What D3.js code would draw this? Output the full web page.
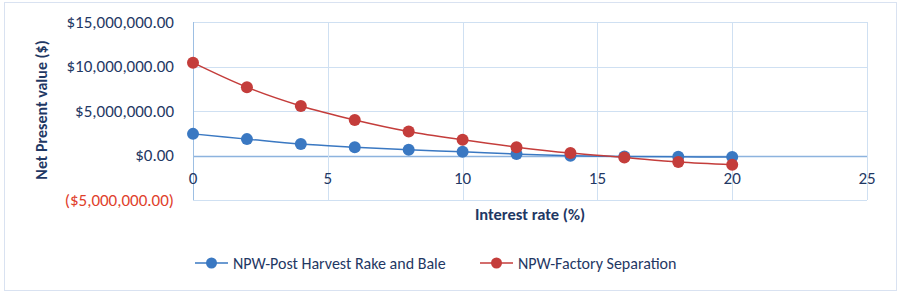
<!DOCTYPE html>
<html>
<head>
<meta charset="utf-8">
<script src="https://cdn.jsdelivr.net/npm/d3@7"></script>
<style>
  body { margin: 0; background: #fff; }
  svg text { font-family: Carlito, "Open Sans", "Noto Sans", sans-serif; }
</style>
</head>
<body>
<div id="chart"></div>
<script>
// interest rates (%)
const rates = [0, 2, 4, 6, 8, 10, 12, 14, 16, 18, 20];
// NPW values ($)
const rakeBale = [2430000, 1840000, 1280000, 940000, 640000, 410000, 160000, -30000, -110000, -150000, -180000];
const factorySep = [10430000, 7670000, 5570000, 4000000, 2700000, 1760000, 940000, 270000, -220000, -740000, -1040000];
const seriesNames = ["NPW-Post Harvest Rake and Bale", "NPW-Factory Separation"];
const seriesColors = ["#3A78C2", "#C43D3B"];
const xTicks = [0, 5, 10, 15, 20, 25];
const yTicks = [-5000000, 0, 5000000, 10000000, 15000000];

const W = 902, H = 298;
const svg = d3.select("#chart").append("svg")
    .attr("width", W)
    .attr("height", H);

// chart frame
svg.append("rect")
    .attr("x", 4.5).attr("y", 2.5)
    .attr("width", 892).attr("height", 288)
    .attr("fill", "#fff")
    .attr("stroke", "#D9E2F1");

var x = d3.scaleLinear().domain([0, 25]).range([193, 867]);
var y = d3.scaleLinear().domain([-5000000, 15000000]).range([200, 22]);

var grid = "#CFE0F2";

// horizontal gridlines
svg.selectAll("line.hg")
    .data(yTicks)
    .enter()
    .append("line")
    .attr("class", "hg")
    .attr("x1", x(0)).attr("x2", x(25))
    .attr("y1", d => Math.round(y(d)) + 0.5)
    .attr("y2", d => Math.round(y(d)) + 0.5)
    .attr("stroke", d => d === 0 ? "#8DB3DE" : grid)
    .attr("stroke-width", d => d === 0 ? 1.3 : 1);

// vertical gridlines
svg.selectAll("line.vg")
    .data(xTicks)
    .enter()
    .append("line")
    .attr("class", "vg")
    .attr("y1", y(15000000)).attr("y2", y(-5000000))
    .attr("x1", d => Math.round(x(d)) + 0.5)
    .attr("x2", d => Math.round(x(d)) + 0.5)
    .attr("stroke", d => d === 0 ? "#9DBFE3" : grid);

// y tick labels
const fmt = d3.format(",.2f");
svg.selectAll("text.yt")
    .data(yTicks)
    .enter()
    .append("text")
    .attr("class", "yt")
    .attr("x", 174)
    .attr("y", d => y(d) + 5.5)
    .attr("text-anchor", "end")
    .attr("font-size", 17)
    .attr("fill", d => d < 0 ? "#E0402A" : "#1F3864")
    .text(d => d < 0 ? "($" + fmt(-d) + ")" : "$" + fmt(d));

// x tick labels (sit below the zero line)
svg.selectAll("text.xt")
    .data(xTicks)
    .enter()
    .append("text")
    .attr("class", "xt")
    .attr("x", d => x(d))
    .attr("y", y(0) + 28)
    .attr("text-anchor", "middle")
    .attr("font-size", 17)
    .attr("fill", "#1F3864")
    .text(d => d);

// axis titles
svg.append("text")
    .attr("transform", "translate(47," + 110 + ") rotate(-90)")
    .attr("text-anchor", "middle")
    .attr("font-size", 16)
    .attr("font-weight", "bold")
    .attr("fill", "#1F3864")
    .text("Net Present value ($)");

svg.append("text")
    .attr("x", 530).attr("y", 220)
    .attr("text-anchor", "middle")
    .attr("font-size", 16.5)
    .attr("font-weight", "bold")
    .attr("fill", "#1F3864")
    .text("Interest rate (%)");

// series
const allSeries = [rakeBale, factorySep];
var line = d3.line()
    .x((d, i) => x(rates[i]))
    .y(d => y(d))
    .curve(d3.curveCatmullRom.alpha(0.5));

allSeries.forEach(function(vals, s) {
    svg.append("path")
        .datum(vals)
        .attr("d", line)
        .attr("fill", "none")
        .attr("stroke", seriesColors[s])
        .attr("stroke-width", 1.5);
    svg.selectAll("circle.s" + s)
        .data(vals)
        .enter()
        .append("circle")
        .attr("class", "s" + s)
        .attr("cx", (d, i) => x(rates[i]))
        .attr("cy", d => y(d))
        .attr("r", 6)
        .attr("fill", seriesColors[s]);
});

// legend
const legX = [195, 480];
seriesNames.forEach(function(name, s) {
    var g = svg.append("g").attr("transform", "translate(" + legX[s] + ",263)");
    g.append("line")
        .attr("x1", 0).attr("x2", 33)
        .attr("stroke", seriesColors[s])
        .attr("stroke-width", 1.5);
    g.append("circle")
        .attr("cx", 16.5).attr("r", 5.5)
        .attr("fill", seriesColors[s]);
    g.append("text")
        .attr("x", 38).attr("y", 5.5)
        .attr("font-size", 16)
        .attr("fill", "#1F3864")
        .text(name);
});
</script>
</body>
</html>
